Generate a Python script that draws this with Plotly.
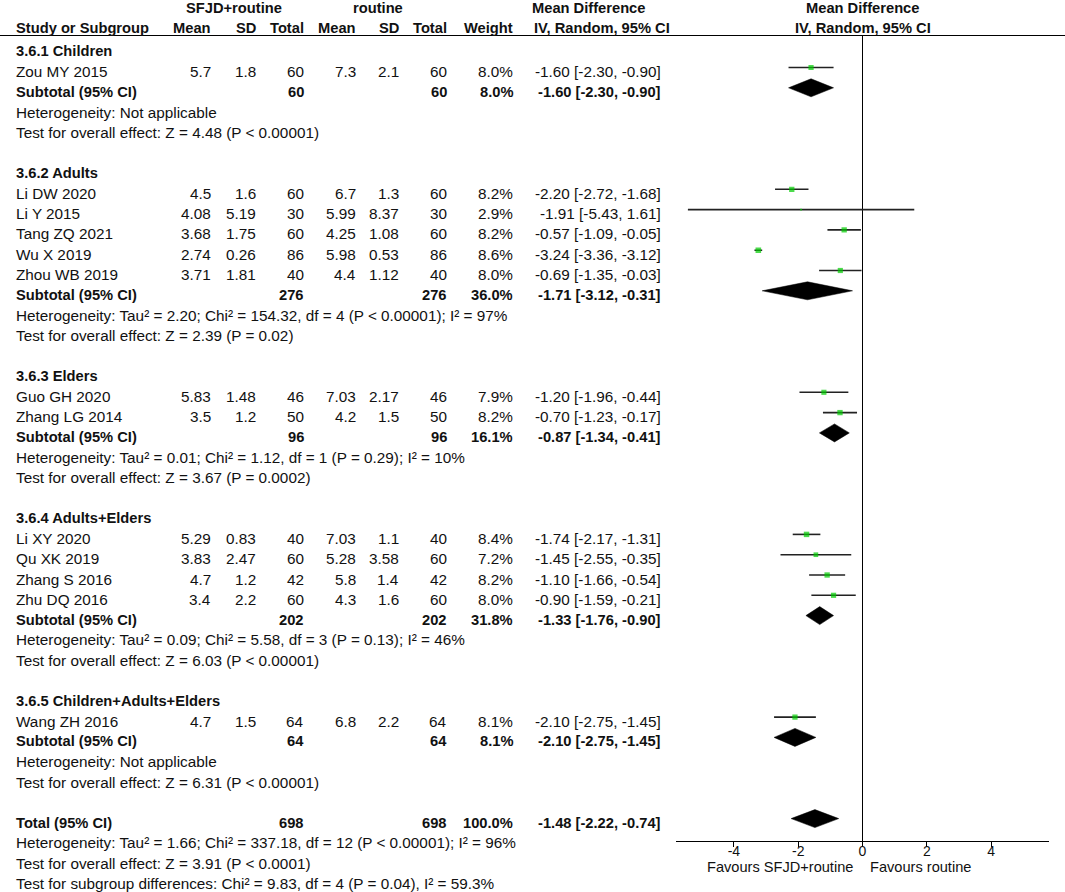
import plotly.graph_objects as go

# 亚组
subgroups = ["3.6.1 Children", "3.6.2 Adults", "3.6.3 Elders",
             "3.6.4 Adults+Elders", "3.6.5 Children+Adults+Elders"]

# 各研究数据
studies = ["Zou MY 2015",
           "Li DW 2020", "Li Y 2015", "Tang ZQ 2021", "Wu X 2019", "Zhou WB 2019",
           "Guo GH 2020", "Zhang LG 2014",
           "Li XY 2020", "Qu XK 2019", "Zhang S 2016", "Zhu DQ 2016",
           "Wang ZH 2016"]
study_group = [0, 1, 1, 1, 1, 1, 2, 2, 3, 3, 3, 3, 4]
exp_mean = [5.7, 4.5, 4.08, 3.68, 2.74, 3.71, 5.83, 3.5, 5.29, 3.83, 4.7, 3.4, 4.7]
exp_sd = [1.8, 1.6, 5.19, 1.75, 0.26, 1.81, 1.48, 1.2, 0.83, 2.47, 1.2, 2.2, 1.5]
exp_n = [60, 60, 30, 60, 86, 40, 46, 50, 40, 60, 42, 60, 64]
ctl_mean = [7.3, 6.7, 5.99, 4.25, 5.98, 4.4, 7.03, 4.2, 7.03, 5.28, 5.8, 4.3, 6.8]
ctl_sd = [2.1, 1.3, 8.37, 1.08, 0.53, 1.12, 2.17, 1.5, 1.1, 3.58, 1.4, 1.6, 2.2]
ctl_n = [60, 60, 30, 60, 86, 40, 46, 50, 40, 60, 42, 60, 64]
weight = [8.0, 8.2, 2.9, 8.2, 8.6, 8.0, 7.9, 8.2, 8.4, 7.2, 8.2, 8.0, 8.1]
md = [-1.60, -2.20, -1.91, -0.57, -3.24, -0.69, -1.20, -0.70, -1.74, -1.45, -1.10, -0.90, -2.10]
ci_lo = [-2.30, -2.72, -5.43, -1.09, -3.36, -1.35, -1.96, -1.23, -2.17, -2.55, -1.66, -1.59, -2.75]
ci_hi = [-0.90, -1.68, 1.61, -0.05, -3.12, -0.03, -0.44, -0.17, -1.31, -0.35, -0.54, -0.21, -1.45]

# 亚组合计
sub_n = [60, 276, 96, 202, 64]
sub_weight = [8.0, 36.0, 16.1, 31.8, 8.1]
sub_md = [-1.60, -1.71, -0.87, -1.33, -2.10]
sub_lo = [-2.30, -3.12, -1.34, -1.76, -2.75]
sub_hi = [-0.90, -0.31, -0.41, -0.90, -1.45]
sub_het = ["Heterogeneity: Not applicable",
           "Heterogeneity: Tau² = 2.20; Chi² = 154.32, df = 4 (P &lt; 0.00001); I² = 97%",
           "Heterogeneity: Tau² = 0.01; Chi² = 1.12, df = 1 (P = 0.29); I² = 10%",
           "Heterogeneity: Tau² = 0.09; Chi² = 5.58, df = 3 (P = 0.13); I² = 46%",
           "Heterogeneity: Not applicable"]
sub_test = ["Test for overall effect: Z = 4.48 (P &lt; 0.00001)",
            "Test for overall effect: Z = 2.39 (P = 0.02)",
            "Test for overall effect: Z = 3.67 (P = 0.0002)",
            "Test for overall effect: Z = 6.03 (P &lt; 0.00001)",
            "Test for overall effect: Z = 6.31 (P &lt; 0.00001)"]

# 总计
total_n = 698
total_weight = 100.0
total_md, total_lo, total_hi = -1.48, -2.22, -0.74
total_notes = ["Heterogeneity: Tau² = 1.66; Chi² = 337.18, df = 12 (P &lt; 0.00001); I² = 96%",
               "Test for overall effect: Z = 3.91 (P &lt; 0.0001)",
               "Test for subgroup differences: Chi² = 9.83, df = 4 (P = 0.04), I² = 59.3%"]

W, H = 1065, 892
FONT = "Liberation Sans, Arial, sans-serif"
FS = 15.3      # 常规文字
FS_B = 14.7    # 粗体文字
TXT = "#111111"
# 列位置 (像素)
COL = dict(study=14, e_mean=212.5, e_sd=258, e_n=305.5, c_mean=358, c_sd=401,
           c_n=449, w=515, ci=662.5)


def row_y(i):
    return 47.2 + 20.3 * i


ann = []


def add_text(txt, x, y_px, anchor="left", bold=False, size=None):
    if size is None:
        size = FS_B if bold else FS
    ann.append(dict(text="<b>%s</b>" % txt if bold else txt,
                    x=x / W, y=1 - y_px / H, xref="paper", yref="paper",
                    xanchor=anchor, yanchor="middle", showarrow=False,
                    font=dict(size=size, color=TXT, family=FONT)))


def ci_text(m, lo, hi):
    return "%.2f [%.2f, %.2f]" % (m, lo, hi)


# 表头
add_text("SFJD+routine", 233.5, 8, "center", True)
add_text("routine", 378, 8, "center", True)
add_text("Mean Difference", 530, 8, "left", True)
add_text("Mean Difference", 862.5, 8, "center", True)
add_text("Study or Subgroup", COL["study"], 28, "left", True)
for key, lab in [("e_mean", "Mean"), ("e_sd", "SD"), ("e_n", "Total"),
                 ("c_mean", "Mean"), ("c_sd", "SD"), ("c_n", "Total"),
                 ("w", "Weight")]:
    add_text(lab, COL[key], 28, "right", True)
add_text("IV, Random, 95% CI", 532, 28, "left", True)
add_text("IV, Random, 95% CI", 862.5, 28, "center", True)

traces = []
line_x, line_y = [], []
mk_x, mk_y, mk_s = [], [], []
diamonds = []

r = 0
for g, name in enumerate(subgroups):
    add_text(name, COL["study"], row_y(r) + 4, "left", True)
    r += 1
    for k in range(len(studies)):
        if study_group[k] != g:
            continue
        y = row_y(r) + 4
        add_text(studies[k], COL["study"], y)
        add_text("%g" % exp_mean[k], COL["e_mean"], y, "right")
        add_text("%g" % exp_sd[k], COL["e_sd"], y, "right")
        add_text("%d" % exp_n[k], COL["e_n"], y, "right")
        add_text("%g" % ctl_mean[k], COL["c_mean"], y, "right")
        add_text("%g" % ctl_sd[k], COL["c_sd"], y, "right")
        add_text("%d" % ctl_n[k], COL["c_n"], y, "right")
        add_text("%.1f%%" % weight[k], COL["w"], y, "right")
        add_text(ci_text(md[k], ci_lo[k], ci_hi[k]), COL["ci"], y, "right")
        line_x += [ci_lo[k], ci_hi[k], None]
        line_y += [row_y(r), row_y(r), None]
        mk_x.append(md[k])
        mk_y.append(row_y(r))
        mk_s.append(weight[k] * 0.65)
        r += 1
    y = row_y(r) + 4
    add_text("Subtotal (95% CI)", COL["study"], y, "left", True)
    add_text("%d" % sub_n[g], COL["e_n"], y, "right", True)
    add_text("%d" % sub_n[g], COL["c_n"], y, "right", True)
    add_text("%.1f%%" % sub_weight[g], COL["w"], y, "right", True)
    add_text(ci_text(sub_md[g], sub_lo[g], sub_hi[g]), COL["ci"], y, "right", True)
    diamonds.append((sub_md[g], sub_lo[g], sub_hi[g], row_y(r)))
    r += 1
    add_text(sub_het[g], COL["study"], row_y(r) + 4)
    r += 1
    add_text(sub_test[g], COL["study"], row_y(r) + 4)
    r += 2

y = row_y(r) + 4
add_text("Total (95% CI)", COL["study"], y, "left", True)
add_text("%d" % total_n, COL["e_n"], y, "right", True)
add_text("%d" % total_n, COL["c_n"], y, "right", True)
add_text("%.1f%%" % total_weight, COL["w"], y, "right", True)
add_text(ci_text(total_md, total_lo, total_hi), COL["ci"], y, "right", True)
diamonds.append((total_md, total_lo, total_hi, row_y(r)))
r += 1
for note in total_notes:
    add_text(note, COL["study"], row_y(r) + 4)
    r += 1

# 底部说明
add_text("Favours SFJD+routine", 855, 867, "right", size=14.6)
add_text("Favours routine", 868, 867, "left", size=14.6)

# 置信区间线
traces.append(go.Scatter(x=line_x, y=line_y, mode="lines",
                         line=dict(color="#222222", width=1.6),
                         hoverinfo="skip"))
# 效应点
traces.append(go.Scatter(x=mk_x, y=mk_y, mode="markers",
                         marker=dict(symbol="square", size=mk_s, color="#00cc00",
                                     line=dict(width=0))))
# 合并效应菱形
for m, lo, hi, yc in diamonds:
    traces.append(go.Scatter(x=[lo, m, hi, m, lo], y=[yc, yc - 9, yc, yc + 9, yc],
                             mode="lines", fill="toself", fillcolor="black",
                             line=dict(color="black", width=0.5),
                             hoverinfo="skip"))

fig = go.Figure(data=traces)

fig.update_layout(
    width=W, height=H, autosize=False,
    margin=dict(l=0, r=0, t=0, b=0, pad=0),
    paper_bgcolor="white", plot_bgcolor="white",
    showlegend=False,
    annotations=ann,
    shapes=[dict(type="line", xref="paper", yref="paper", x0=0, x1=1,
                 y0=1 - 35.5 / H, y1=1 - 35.5 / H,
                 line=dict(color="black", width=1))],
    xaxis=dict(domain=[676 / W, 1049 / W], range=[-5.8, 5.8],
               showgrid=False, zeroline=True, zerolinecolor="black",
               zerolinewidth=1, showline=True, linecolor="black", linewidth=1,
               ticks="outside", ticklen=5, tickcolor="black",
               ticklabelstandoff=-8,
               tickvals=[-4, -2, 0, 2, 4],
               ticktext=["-4", "-2", "0", "2", "4"],
               tickfont=dict(size=14, color=TXT, family=FONT)),
    yaxis=dict(domain=[1 - 841 / H, 1 - 35.5 / H], range=[841, 35.5],
               visible=False, showgrid=False, zeroline=False),
)

fig.write_html("out.html", config={"displayModeBar": False},
               post_script="document.body.style.margin='0';")
